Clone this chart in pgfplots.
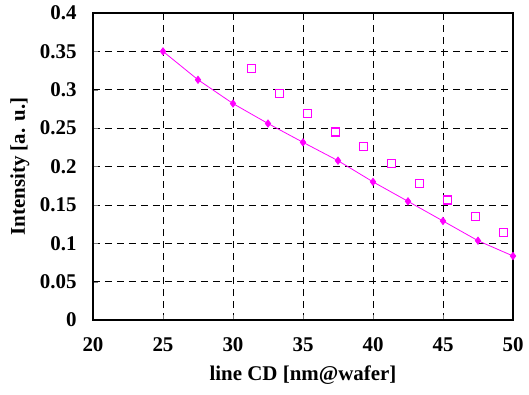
\documentclass[border=0pt]{standalone}
\usepackage{fontspec}
\setmainfont{Liberation Serif}
\usepackage{pgfplots}
\pgfplotsset{compat=1.18}
\definecolor{mag}{RGB}{255,0,255}
\begin{document}
\begin{tikzpicture}
\path[use as bounding box] (-93bp,-75bp) rectangle (436bp,320bp);
\begin{axis}[
  scale only axis, width=420bp, height=307bp,
  at={(0,0)}, anchor=south west,
  xmin=20, xmax=50, ymin=0, ymax=0.4,
  xtick={20,25,30,35,40,45,50},
  ytick={0,0.05,0.1,0.15,0.2,0.25,0.3,0.35,0.4},
  yticklabels={0,0.05,0.1,0.15,0.2,0.25,0.3,0.35,0.4},
  scaled y ticks=false,
  xtick pos=bottom, ytick pos=left,
  tick align=inside, major tick length=5bp,
  grid=major,
  major grid style={black, line width=0.6bp, dash pattern=on 7bp off 5bp},
  axis line style={line width=1.1bp},
  /pgf/number format/assume math mode=true,
  tick label style={font=\fontsize{21}{25}\selectfont\bfseries},
  xticklabel style={yshift=-14bp},
  yticklabel style={xshift=-13bp},
  label style={font=\fontsize{21}{25}\selectfont\bfseries},
  xlabel={line CD [nm@wafer]},
  ylabel={Intensity [a. u.]},
  x label style={at={(axis description cs:0.5,-0.178)}, anchor=center},
  y label style={at={(axis description cs:-0.174,0.5)}, anchor=center},
]
\addplot[mag, line width=0.8bp, mark=diamond*, mark size=3.6bp, mark options={fill=mag, solid}] coordinates {
(25,0.350) (27.5,0.313) (30,0.282) (32.5,0.256) (35,0.2315) (37.5,0.2076)
(40,0.180) (42.5,0.1546) (45,0.129) (47.5,0.1033) (50,0.0834)
};
\addplot[only marks, mag, mark=square*, mark size=4bp, mark options={draw=mag, fill=white, line width=1.1bp, solid}] coordinates {
(31.33,0.3274) (33.33,0.2949) (35.33,0.2688) (37.33,0.245) (39.33,0.2263)
(41.33,0.2037) (43.33,0.1776) (45.33,0.1564) (47.33,0.1346) (49.33,0.1138)
};
\end{axis}
\end{tikzpicture}
\end{document}
